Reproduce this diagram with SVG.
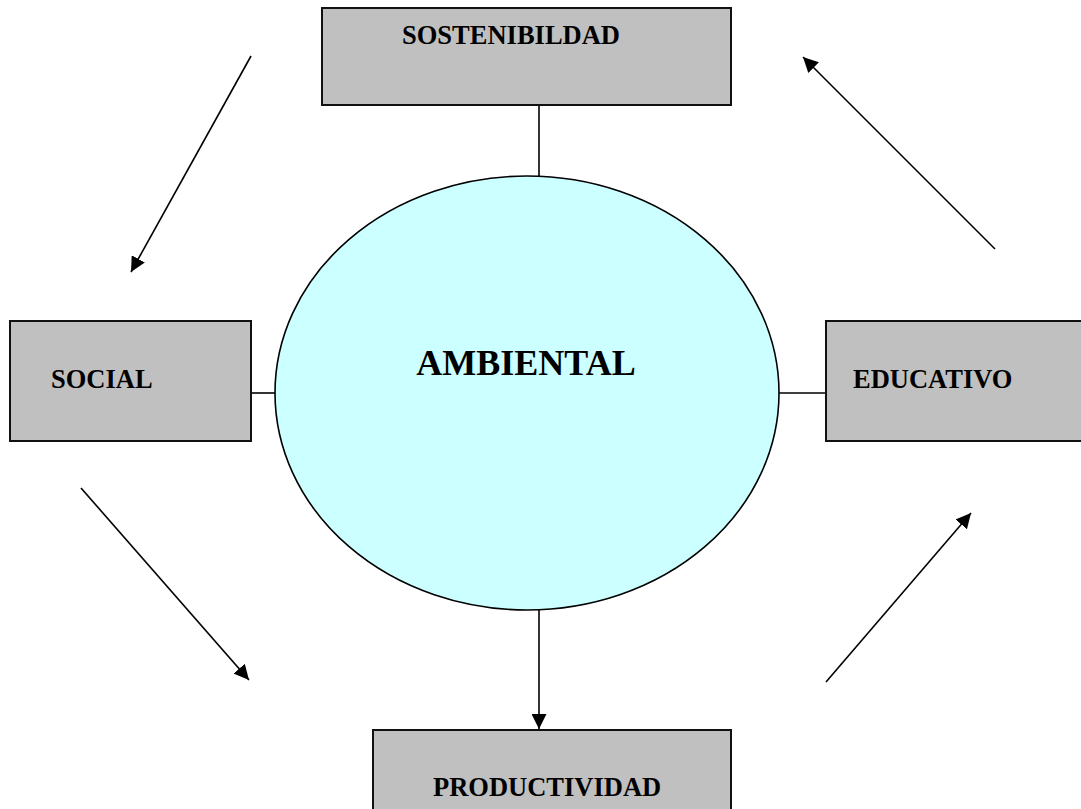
<svg xmlns="http://www.w3.org/2000/svg" width="1081" height="809" viewBox="0 0 1081 809">
<style>
.box{fill:#c0c0c0;stroke:#111;stroke-width:2}
.lbl{font-family:"Liberation Serif","Times New Roman",serif;font-weight:bold;font-size:26.5px;fill:#000}
.big{font-size:36px}
.conn{stroke:#000;stroke-width:1.6;fill:none}
</style>
<defs>
<marker id="ah2" viewBox="0 0 10 10" refX="10" refY="5" markerWidth="15" markerHeight="15" markerUnits="userSpaceOnUse" orient="auto">
<path d="M0,0 L10,5 L0,10 Z" fill="#000"/>
</marker>
</defs>
<rect width="1081" height="809" fill="#fff"/>
<g id="connectors">
<line class="conn" x1="539" y1="105" x2="539" y2="177"/>
<line class="conn" x1="251" y1="393" x2="275" y2="393"/>
<line class="conn" x1="779" y1="393" x2="826" y2="393"/>
<line class="conn" x1="539" y1="609" x2="539" y2="729" marker-end="url(#ah2)"/>
<line class="conn" x1="251" y1="56" x2="131" y2="272" marker-end="url(#ah2)"/>
<line class="conn" x1="995" y1="249" x2="803" y2="57" marker-end="url(#ah2)"/>
<line class="conn" x1="81" y1="488" x2="249" y2="680" marker-end="url(#ah2)"/>
<line class="conn" x1="826" y1="682" x2="971" y2="513" marker-end="url(#ah2)"/>
</g>
<g id="sostenibilidad">
<rect class="box" x="322" y="8" width="409" height="97"/>
<text class="lbl" x="402" y="44">SOSTENIBILDAD</text>
</g>
<g id="social">
<rect class="box" x="10" y="321" width="241" height="120"/>
<text class="lbl" x="51" y="388">SOCIAL</text>
</g>
<g id="educativo">
<rect class="box" x="826" y="321" width="258" height="120"/>
<text class="lbl" x="853" y="388">EDUCATIVO</text>
</g>
<g id="productividad">
<rect class="box" x="373" y="730" width="358" height="90"/>
<text class="lbl" x="433" y="796">PRODUCTIVIDAD</text>
</g>
<g id="ambiental">
<ellipse cx="527" cy="393" rx="252" ry="217" fill="#ccffff" stroke="#000" stroke-width="1.6"/>
<text class="lbl big" x="526" y="375" text-anchor="middle">AMBIENTAL</text>
</g>
</svg>
